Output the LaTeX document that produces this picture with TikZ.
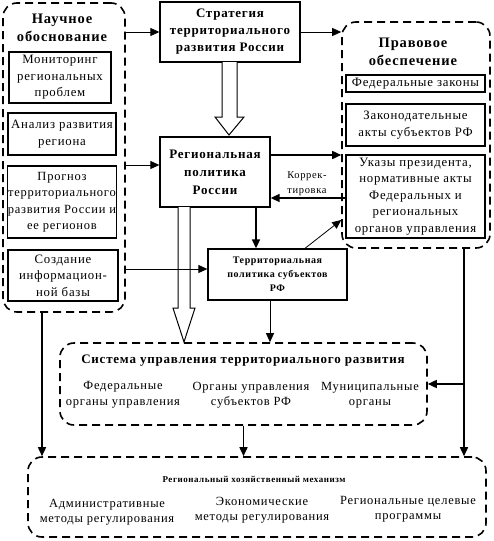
\documentclass[tikz,border=0pt]{standalone}
\usepackage{fontspec}
\setmainfont{Liberation Serif}[LetterSpace=6]
\usetikzlibrary{arrows.meta,calc}
\begin{document}
\begin{tikzpicture}[x=1pt,y=-1pt,
  box/.style={draw,line width=1.3pt,inner sep=0pt,align=center,font=\fontsize{12.8}{16.5}\selectfont},
  dbox/.style={draw,line width=1.6pt,dash pattern=on 8pt off 5pt,rounded corners=14pt,inner sep=0pt},
  arr/.style={-{Triangle[length=9pt,width=8pt]},line width=0.8pt},
  tarr/.style={-{Triangle[length=9pt,width=8pt]},line width=1.6pt},
  hollow/.style={draw,fill=white,line width=1pt},
  ttl/.style={font=\fontsize{14.5}{18}\selectfont\bfseries,align=center,inner sep=0pt},
  txt/.style={font=\fontsize{12.5}{15.5}\selectfont,align=center,inner sep=0pt}]
\useasboundingbox (0,0) rectangle (493,541);
% dashed containers
\node[dbox,minimum width=122pt,minimum height=309pt] (L) at (64,157.5) {};
\node[dbox,minimum width=148pt,minimum height=226pt] (P) at (416,135) {};
\node[dbox,minimum width=367pt,minimum height=82pt] (Sys) at (243.5,384) {};
\node[dbox,minimum width=458pt,minimum height=80pt] (Mech) at (257,497) {};
% titles
\node[ttl] (Lt) at (62,28) {Научное\\обоснование};
\node[ttl] (Pt) at (413,51.5) {Правовое\\обеспечение};
\node[ttl,font=\fontsize{13}{16}\selectfont\bfseries] (St) at (243,361) {Система управления территориального развития};
\node[font=\fontsize{9}{11}\selectfont\bfseries,inner sep=0pt] (Mt) at (254,479) {Региональный хозяйственный механизм};
% left inner boxes
\node[box,minimum width=102pt,minimum height=51pt] (m1) at (60,77.5) {Мониторинг\\региональных\\проблем};
\node[box,minimum width=108pt,minimum height=42pt] (m2) at (62,134) {Анализ развития\\региона};
\node[box,minimum width=108pt,minimum height=72pt,font=\fontsize{12.5}{16.5}\selectfont] (m3) at (62,202) {Прогноз\\территориального\\развития России и\\ее регионов};
\node[box,minimum width=110pt,minimum height=51pt] (m4) at (63,275.5) {Создание\\информацион-\\ной базы};
% right inner boxes
\node[box,minimum width=139pt,minimum height=17pt] (p1) at (415.5,83.5) {Федеральные законы};
\node[box,minimum width=139pt,minimum height=42pt] (p2) at (415.5,125) {Законодательные\\акты субъектов РФ};
\node[box,minimum width=139pt,minimum height=83pt] (p3) at (415.5,196.5) {Указы президента,\\нормативные акты\\Федеральных и\\региональных\\органов управления};
% central boxes
\node[box,minimum width=140pt,minimum height=60pt,font=\fontsize{13}{17}\selectfont\bfseries] (S) at (230,32) {Стратегия\\территориального\\развития России};
\node[box,minimum width=110pt,minimum height=70pt,font=\fontsize{13}{18}\selectfont\bfseries] (R) at (215,172) {Региональная\\политика\\России};
\node[box,minimum width=139pt,minimum height=51pt,font=\fontsize{10}{14}\selectfont\bfseries] (T) at (277.5,274.5) {Территориальная\\политика субъектов\\РФ};
% items
\node[txt] (s1) at (123,395) {Федеральные\\органы управления};
\node[txt] (s2) at (251,395) {Органы управления\\субъектов РФ};
\node[txt] (s3) at (370,395) {Муниципальные\\органы};
\node[txt] (e1) at (107,512) {Административные\\методы регулирования};
\node[txt] (e2) at (262,510) {Экономические\\методы регулирования};
\node[txt] (e3) at (408,509) {Региональные целевые\\программы};
\node[font=\fontsize{10.5}{15}\selectfont,align=center,inner sep=0pt] (K) at (307,184) {Коррек-\\тировка};
% hollow arrows
\draw[hollow] (222,62) -- (222,117) -- (215,117) -- (229,135) -- (244,117) -- (237,117) -- (237,62);
\draw[hollow] (178,207) -- (178,308) -- (173,308) -- (184,342) -- (195,308) -- (190,308) -- (190,207);
% connectors
\draw[arr] (L.east |- S.west) -- (S.west);
\draw[arr] (S.east) -- (S.east -| P.west);
\coordinate (rl) at ([yshift=7pt]R.west);
\draw[arr] (L.east |- rl) -- (rl);
\coordinate (rr) at ([yshift=17pt]R.east);
\draw[tarr] (rr) -- (rr -| P.west);
\coordinate (rk) at ([yshift=-26pt]R.east);
\draw[tarr] (rk -| p3.west) -- (rk);
\coordinate (rt) at ([xshift=41pt]R.south);
\draw[tarr] (rt) -- (rt |- T.north);
\coordinate (tw) at ([yshift=5.5pt]T.west);
\draw[arr] (L.east |- tw) -- (tw);
\coordinate (tn) at ([xshift=27.5pt]T.north);
\coordinate (pw) at ([yshift=-85pt]P.west);
\draw[arr] (tn) -- (pw);
\coordinate (ts) at ([xshift=-7.5pt]T.south);
\draw[arr] (ts) -- (ts |- Sys.north);
\coordinate (pd) at ([xshift=48pt]P.south);
\draw[tarr] (pd) -- (pd |- Mech.north);
\draw[tarr] (pd |- Sys.east) -- (Sys.east);
\coordinate (ld) at ([xshift=-22pt]L.south);
\draw[tarr] (ld) -- (ld |- Mech.north);
\draw[tarr] (Sys.south) -- (Sys.south |- Mech.north);
\end{tikzpicture}
\end{document}
